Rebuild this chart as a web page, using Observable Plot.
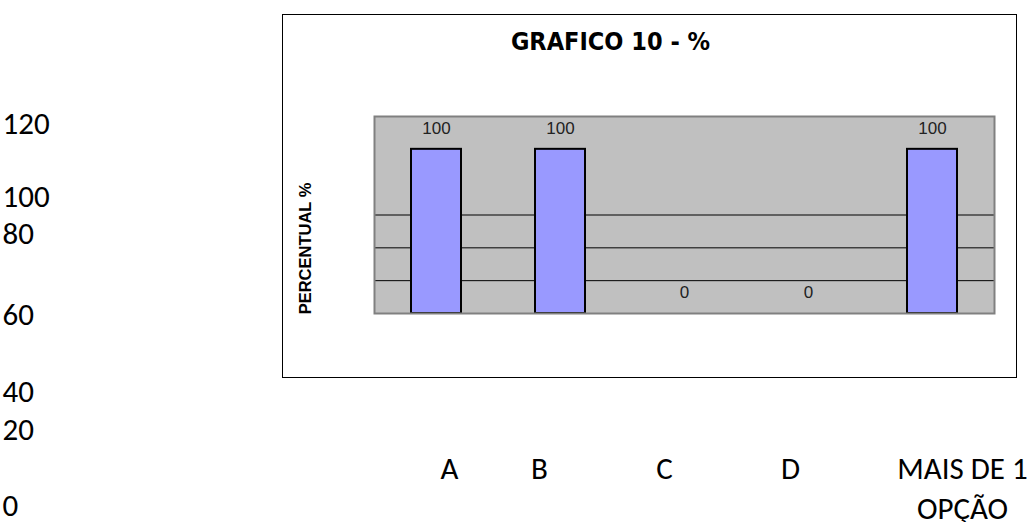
<!DOCTYPE html>
<html>
<head>
<meta charset="utf-8">
<script src="https://cdn.jsdelivr.net/npm/d3@7"></script>
<script src="https://cdn.jsdelivr.net/npm/@observablehq/plot@0.6"></script>
<style>
  html, body { margin: 0; padding: 0; background: #fff; }
  #chart svg { display: block; }
</style>
</head>
<body>
<div id="chart"></div>
<script>
// ---- data ----
const categories = ["A", "B", "C", "D", "MAIS DE 1\nOPÇÃO"];
const values = [100, 100, 0, 0, 100];
const yTickLabels = [120, 100, 80, 60, 40, 20, 0];
const gridValues = [20, 40, 60];
const titleText = "GRAFICO 10 - %";
const yLabelText = "PERCENTUAL %";

// ---- layout (pixels) ----
const W = 1029, H = 522;
const M = {left: 374, right: 35, top: 116, bottom: 209};
// stray tick labels on the far left: vertical centres
const strayTickY = [124, 197, 234, 315, 392, 430, 506];
// stray category labels below: horizontal shift from bar centre
const strayCatDx = [13, -21, -20, -18, 30];
const strayCatY = 469;     // centre of first line
const strayCatLine = 40;   // line spacing

const data = categories.map((c, i) => ({cat: c, value: values[i]}));
const calibri = "Carlito, Lato, 'Open Sans', sans-serif";
const arial = "'Liberation Sans', Arial, sans-serif";
const plotCx = M.left + (W - M.left - M.right) / 2;
const plotCy = M.top + (H - M.top - M.bottom) / 2;

const marks = [
  Plot.frame({fill: "#c0c0c0"}),
  Plot.ruleY(gridValues, {stroke: "#000", strokeWidth: 1}),
  Plot.barY(data.filter(d => d.value > 0), {x: "cat", y: "value", fill: "#9999ff", stroke: "#000", strokeWidth: 2}),
  Plot.text(data, {x: "cat", y: "value", text: d => String(d.value), dy: -21, fontSize: 17, fill: "#222", fontFamily: arial}),
  Plot.frame({stroke: "#808080", strokeWidth: 2}),
  Plot.frame({stroke: "#000", strokeWidth: 1, insetLeft: -92, insetTop: -102, insetRight: -22, insetBottom: -64}),
  Plot.text([titleText], {frameAnchor: "top", text: d => d, dx: 610 - plotCx, dy: 41 - M.top,
    fontSize: 25, fontWeight: "bold", fill: "#000", fontFamily: "'Liberation Sans Narrow', 'DejaVu Sans Condensed', sans-serif", lineAnchor: "middle"}),
  Plot.text([yLabelText], {frameAnchor: "left", text: d => d, rotate: -90, dx: 305 - M.left, dy: 248 - plotCy,
    fontSize: 16.5, fontWeight: "bold", fill: "#000", fontFamily: arial, textAnchor: "middle", lineAnchor: "middle"})
];

yTickLabels.forEach((t, i) => {
  marks.push(Plot.text([t], {frameAnchor: "top-left", text: d => String(d), textAnchor: "start", lineAnchor: "middle",
    dx: 2 - M.left, dy: strayTickY[i] - M.top, fontSize: 31, fill: "#000", fontFamily: calibri}));
});
categories.forEach((c, i) => {
  c.split("\n").forEach((line, j) => {
    marks.push(Plot.text([c], {x: d => d, frameAnchor: "bottom", text: () => line, textAnchor: "middle", lineAnchor: "middle",
      dx: strayCatDx[i], dy: strayCatY + j * strayCatLine - (H - M.bottom), fontSize: 31, fill: "#000", fontFamily: calibri}));
  });
});

const chart = Plot.plot({
  width: W, height: H,
  marginLeft: M.left, marginRight: M.right, marginTop: M.top, marginBottom: M.bottom,
  x: {domain: categories, paddingInner: 0.6, paddingOuter: 0.3, axis: null},
  y: {domain: [0, 120], axis: null},
  style: {background: "#fff", overflow: "visible"},
  marks
});
document.getElementById("chart").append(chart);
</script>
</body>
</html>
